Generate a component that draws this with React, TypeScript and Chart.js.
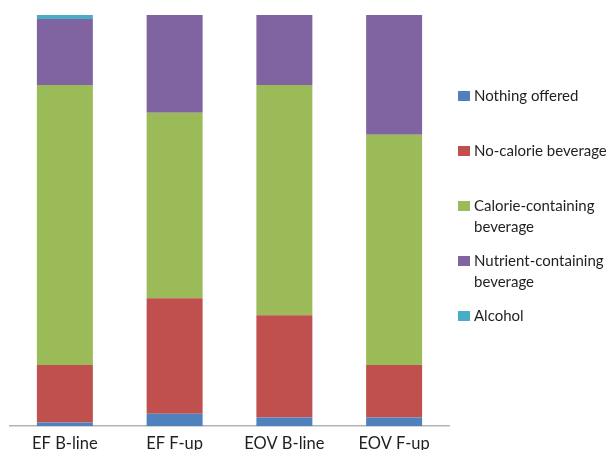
import { useEffect, useRef } from "react";
import { Chart, registerables } from "chart.js";
Chart.register(...registerables);

const categories = ["EF B-line", "EF F-up", "EOV B-line", "EOV F-up"];
const seriesLabels = ["Nothing offered", "No-calorie beverage", "Calorie-containing beverage", "Nutrient-containing beverage", "Alcohol"];
const legendLines = [["Nothing offered"], ["No-calorie beverage"], ["Calorie-containing", "beverage"], ["Nutrient-containing", "beverage"], ["Alcohol"]];
const seriesColors = ["#4F81BD", "#C0504D", "#9BBB59", "#8064A2", "#4BACC6"];

const nothingOffered = [0.9, 3.0, 2.1, 2.1];
const noCalorie = [14.0, 28.1, 24.9, 12.8];
const calorieContaining = [68.1, 45.1, 56.0, 56.0];
const nutrientContaining = [16.0, 23.8, 17.0, 29.1];
const alcohol = [1.0, 0, 0, 0];

const seriesValues = [nothingOffered, noCalorie, calorieContaining, nutrientContaining, alcohol];

const FONT = "Lato, 'Open Sans', sans-serif";

const sideLegend = {
  id: "sideLegend",
  afterDraw(chart: any) {
    const ctx = chart.ctx;
    ctx.save();
    ctx.font = `15px ${FONT}`;
    ctx.textBaseline = "middle";
    ctx.textAlign = "left";
    chart.data.datasets.forEach((ds: any, i: number) => {
      const y = 96 + i * 55;
      ctx.fillStyle = ds.backgroundColor;
      ctx.fillRect(458, y - 5, 12, 10);
      ctx.fillStyle = "#1F1F1F";
      legendLines[i].forEach((line, j) => ctx.fillText(line, 474, y + j * 21));
    });
    ctx.restore();
  },
};

export default function App() {
  const ref = useRef<HTMLCanvasElement>(null);
  useEffect(() => {
    if (!ref.current) return;
    const chart = new Chart(ref.current, {
      type: "bar",
      data: {
        labels: categories,
        datasets: seriesValues.map((vals, i) => ({
          label: seriesLabels[i],
          data: vals,
          backgroundColor: seriesColors[i],
          borderWidth: 0,
        })),
      },
      options: {
        responsive: false,
        animation: false,
        layout: { padding: { left: 10, right: 161, top: 15, bottom: -12 } },
        plugins: { legend: { display: false }, tooltip: { enabled: false } },
        datasets: { bar: { categoryPercentage: 1, barPercentage: 0.51 } },
        scales: {
          x: {
            stacked: true,
            grid: { display: false, drawTicks: false },
            border: { display: true, color: "#B3B3B3", width: 1.5 },
            ticks: { color: "#1F1F1F", font: { family: FONT, size: 16.5 }, padding: 8 },
          },
          y: {
            stacked: true,
            display: false,
            min: 0,
            max: 100,
          },
        },
      },
      plugins: [sideLegend],
    });
    return () => chart.destroy();
  }, []);
  return (
    <div style={{ position: "fixed", left: 0, top: 0, width: 610, height: 450, background: "#fff" }}>
      <canvas ref={ref} width={610} height={450} />
    </div>
  );
}
